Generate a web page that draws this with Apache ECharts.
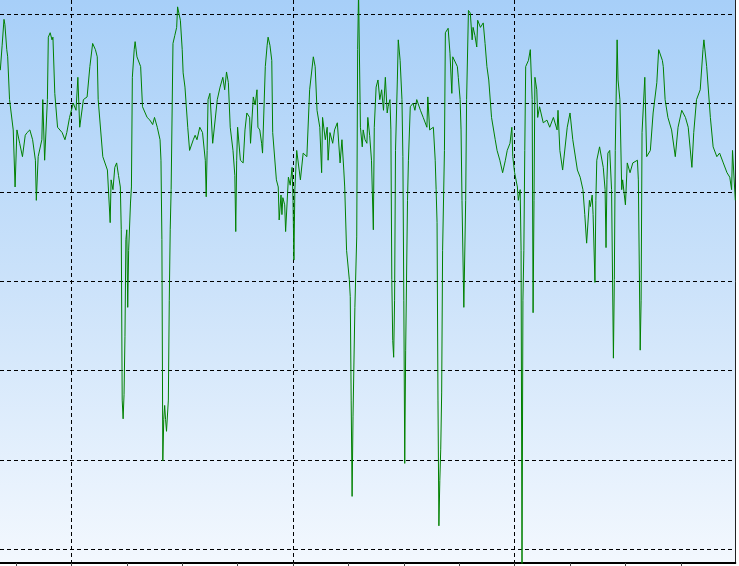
<!DOCTYPE html>
<html>
<head>
<meta charset="utf-8">
<script src="https://cdn.jsdelivr.net/npm/echarts@6/dist/echarts.min.js"></script>
<style>
html,body{margin:0;padding:0;background:#fff;}
#chart{width:739px;height:566px;}
</style>
</head>
<body>
<div id="chart"></div>
<script>
// elapsed time (s)
const times = [
-17,-15,-13,-12,-10,-9,-7,-3,-1,1,4,7,10,12,15,18,21,22,24,28,
29,31,34,35,37,39,40,42,45,50,53,55,58,62,65,67,69,73,77,80,
83,86,88,89,94,99,102,103,105,107,109,111,113,114,115,116,117,118,119,120,
121,122,124,125,126,128,129,131,133,135,137,142,145,148,150,153,156,157,158,159,
160,161,162,163,165,166,167,168,170,172,174,175,178,180,181,183,186,188,192,194,
196,199,202,205,206,207,208,210,213,218,221,224,226,228,230,232,235,237,238,239,
240,243,246,248,250,253,254,257,259,261,262,264,266,267,270,272,273,275,277,278,
282,284,285,287,288,289,291,292,295,297,299,300,301,302,304,308,311,315,318,322,
324,326,329,331,332,335,337,338,340,343,345,348,351,353,355,356,358,361,362,363,
364,365,367,369,370,371,373,375,376,378,380,381,383,385,387,388,390,392,394,396,
398,400,402,403,405,406,407,408,409,410,411,413,414,416,418,419,420,421,422,424,
425,427,430,432,434,438,441,445,446,448,452,454,455,456,457,458,459,460,461,462,
464,465,468,470,472,473,478,479,481,482,483,485,487,488,490,492,494,495,497,499,
500,503,506,508,510,512,515,519,521,524,527,530,532,535,537,538,540,543,544,546,
547,548,549,550,551,552,555,557,559,560,561,562,564,565,567,571,575,578,582,586,
587,589,592,597,600,603,608,611,614,616,618,621,622,624,625,627,628,629,632,636,
638,639,640,641,643,645,647,648,649,651,652,654,656,657,660,662,665,668,673,674,
676,677,678,681,683,687,690,694,696,700,701,703,706,710,714,717,721,725,728,732,
734,737,741,744,745,748,752,755,759,762,766,770,773,775,776,779
];
// measured signal
const values = [
53.7,56.5,59.4,58.8,56.0,55.2,50.4,47.0,40.6,47.0,45.5,44.0,46.4,46.7,47.0,45.9,43.6,39.1,44.0,45.9,
50.4,43.6,50.4,57.4,57.9,57.1,57.4,51.1,47.3,46.7,45.9,46.7,48.4,50.0,49.2,52.9,47.3,50.4,50.7,54.1,
56.7,56.0,55.2,50.4,44.0,42.5,36.6,41.4,40.3,42.8,43.3,41.9,40.6,35.8,16.7,14.6,17.3,23.8,34.7,35.8,
27.1,33.5,38.8,40.6,52.9,56.0,56.9,55.2,55.4,54.1,49.6,48.4,48.1,47.6,48.4,47.3,45.9,43.6,34.7,9.9,
14.5,16.1,14.5,13.2,16.7,27.9,35.8,40.3,56.7,57.6,58.5,60.8,59.3,56.0,53.4,51.8,47.3,44.7,45.9,46.4,
45.9,47.3,46.7,43.6,39.5,44.7,50.4,51.1,45.5,50.4,51.8,52.9,51.5,53.5,52.3,47.3,44.7,41.9,35.6,43.6,
47.3,43.6,43.3,47.0,48.9,48.4,45.5,50.7,49.8,51.5,47.3,47.0,45.5,44.4,54.1,56.5,57.4,56.5,54.8,46.7,
41.4,40.6,36.9,39.7,37.5,39.4,38.6,35.6,41.7,40.8,42.8,39.1,32.4,40.3,44.7,41.4,44.4,44.0,51.5,55.2,
54.1,49.2,47.3,42.2,48.4,45.9,47.3,43.6,46.7,45.5,47.0,47.8,43.3,45.9,42.5,40.6,33.5,30.2,28.3,16.7,
5.9,14.9,27.1,35.0,56.0,62.5,47.3,45.1,47.0,45.9,45.5,48.4,46.4,43.6,35.8,47.3,51.8,52.6,50.4,51.5,
49.2,52.9,48.9,49.6,50.4,47.0,30.2,23.4,21.5,27.9,44.7,52.6,57.1,54.8,50.4,44.0,27.9,9.6,22.3,39.1,
43.6,49.6,50.0,49.2,50.4,49.2,48.4,47.3,50.7,47.0,47.3,43.6,40.3,36.6,16.7,2.6,7.7,11.2,17.5,33.5,
44.7,57.9,58.4,55.6,51.1,55.2,54.1,52.9,50.4,47.0,39.1,27.1,39.1,50.4,60.4,60.1,57.1,58.5,57.6,56.3,
59.3,58.5,59.0,56.7,54.1,52.6,48.4,45.9,44.7,43.6,42.2,43.6,44.7,45.5,47.3,44.0,42.2,40.6,39.1,40.3,
33.5,-3.0,27.9,33.5,44.7,54.1,54.8,56.0,50.4,26.5,39.1,52.9,51.5,48.4,49.6,47.8,48.1,47.3,48.4,47.0,
49.2,44.7,42.5,47.3,48.9,45.9,42.5,41.7,40.3,37.5,34.3,39.1,38.4,39.7,37.5,29.9,39.1,43.6,45.1,42.8,
40.3,33.8,41.4,44.4,44.7,40.3,21.4,30.2,44.7,57.1,52.6,50.4,40.3,41.4,38.6,43.3,42.2,43.3,43.6,41.4,
22.3,27.9,46.7,52.9,44.0,44.7,48.9,52.3,56.0,54.8,54.1,50.4,48.4,47.0,44.0,47.3,49.2,48.4,47.3,42.8,
46.7,50.4,51.5,56.0,57.1,54.1,48.4,45.1,44.0,44.4,43.3,42.2,41.7,40.3,44.7,39.1
];
// axis settings (data units)
const xMin = -17.33, xMax = 779;
const xTicks = [0, 60, 120, 180, 240, 300, 360, 420, 480, 540, 600, 660, 720];
const xGridLines = [60, 300, 540];
const yMin = -1.57, yMax = 61.57;
const yGridLines = [0, 10, 20, 30, 40, 50, 60];

const n = Math.min(times.length, values.length);
const seriesData = [];
for (let i = 0; i < n; i++) seriesData.push([times[i], values[i]]);

const chart = echarts.init(document.getElementById('chart'), null, {renderer: 'canvas'});
const dash = [4, 3];
chart.setOption({
  animation: false,
  grid: {
    left: 0, right: 3.7, top: 0, bottom: 3,
    show: true, borderWidth: 0,
    backgroundColor: {
      type: 'linear', x: 0, y: 0, x2: 0, y2: 1,
      colorStops: [
        {offset: 0, color: '#A7CFF8'},
        {offset: 0.5, color: '#CBE2FA'},
        {offset: 1, color: '#F3F8FE'}
      ]
    }
  },
  xAxis: [
    {
      type: 'value', position: 'bottom', min: xMin, max: xMax,
      axisLine: {show: true, onZero: false, lineStyle: {color: '#000', width: 2}},
      axisTick: {show: true, length: 3, customValues: xTicks, lineStyle: {color: '#444', width: 1}},
      axisLabel: {show: false},
      splitLine: {show: false}
    },
    {
      type: 'value', position: 'top', min: xMin, max: xMax,
      axisLine: {show: false, onZero: false},
      axisTick: {show: false, customValues: xGridLines},
      axisLabel: {show: false},
      splitLine: {show: true, showMinLine: true, showMaxLine: true, lineStyle: {color: '#000', width: 1, type: dash}}
    }
  ],
  yAxis: {
    type: 'value', position: 'right', min: yMin, max: yMax,
    axisLine: {show: true, onZero: false, lineStyle: {color: '#222', width: 1}},
    axisTick: {show: false, customValues: yGridLines},
    axisLabel: {show: false},
    splitLine: {show: true, showMinLine: true, showMaxLine: true, lineStyle: {color: '#000', width: 1, type: dash}}
  },
  series: [{
    type: 'line', xAxisIndex: 0, yAxisIndex: 0,
    data: seriesData, showSymbol: false, symbol: 'none',
    clip: true, silent: true,
    lineStyle: {color: '#008000', width: 1}
  }]
});
</script>
</body>
</html>
